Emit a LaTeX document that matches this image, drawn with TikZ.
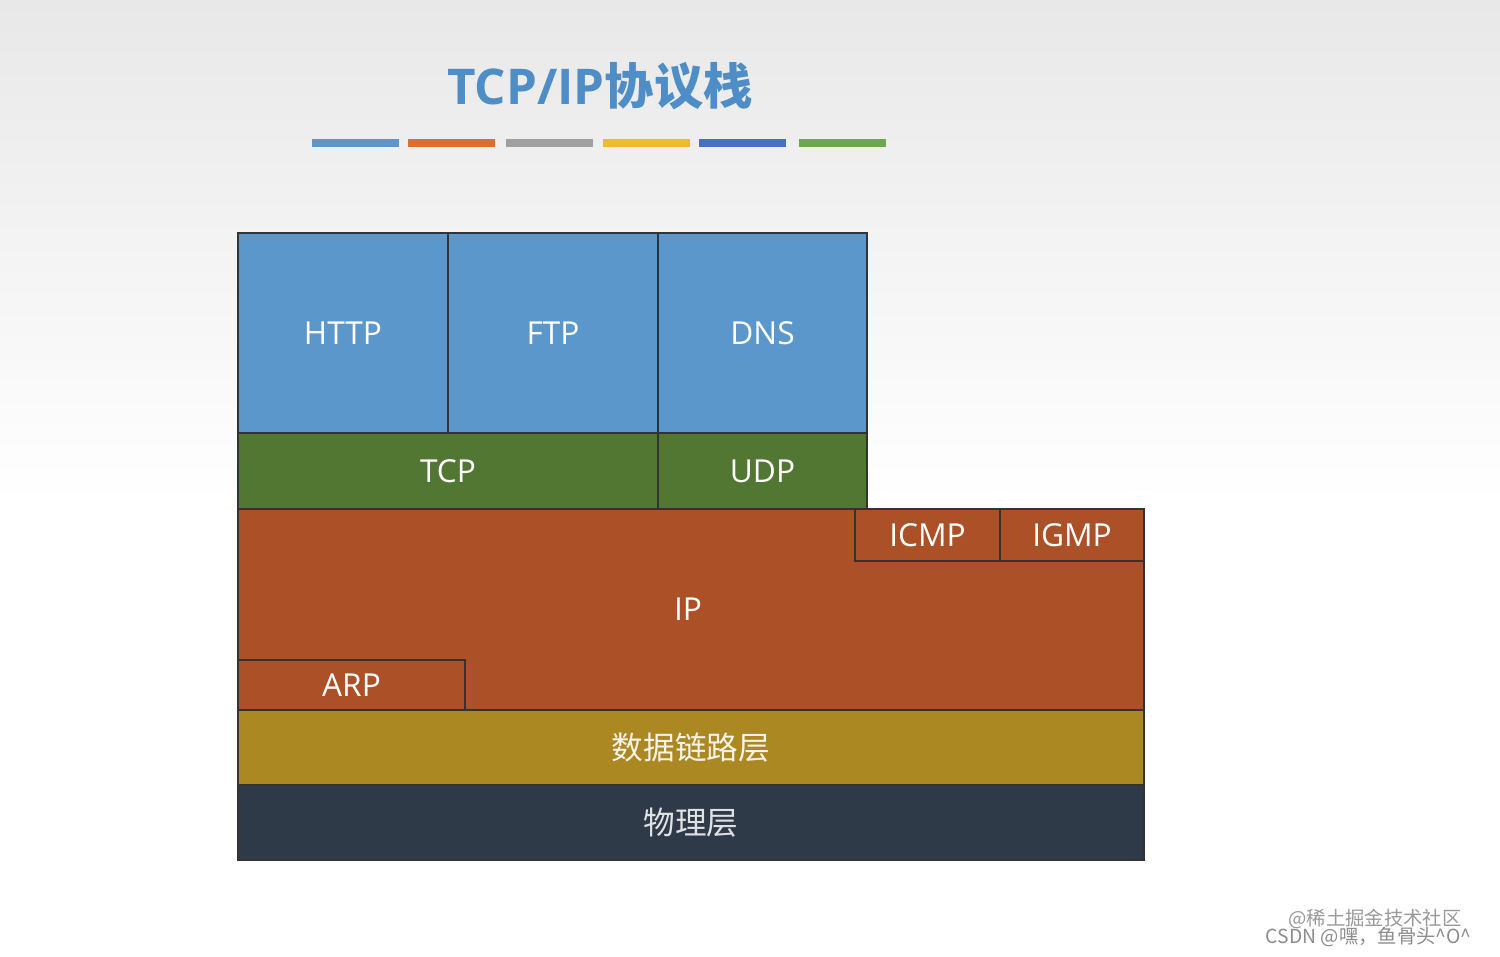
\documentclass[tikz,border=0pt]{standalone}
\usepackage{fontspec}
\setmainfont{Open Sans}
\newfontfamily\cjk{Noto Sans CJK SC}
\definecolor{cblue}{HTML}{5B97CA}
\definecolor{cgreen}{HTML}{527733}
\definecolor{corange}{HTML}{AC5127}
\definecolor{cgold}{HTML}{AB8822}
\definecolor{cdark}{HTML}{2F3A48}
\definecolor{ctitle}{HTML}{4F8DC6}
\begin{document}
\begin{tikzpicture}[x=0.01cm,y=-0.01cm,
  box/.style={draw=black!80,line width=0.5pt,text=white,font=\fontsize{9}{10}\selectfont},
  bar/.style={line width=2.2pt}]
\useasboundingbox (0,0) rectangle (1500,956);
\shade[top color=black!9,bottom color=white] (0,0) rectangle (1500,500);
\fill[white] (0,500) rectangle (1500,956);
\node[text=ctitle,font=\fontsize{14}{16}\selectfont\bfseries] (title) at (600,86) {TCP/IP\cjk 协议栈};
\foreach \a/\b/\c in {312/399/5B97CA,408/495/DB6F33,506/593/A0A0A0,603/690/F1B92C,699/786/4571BF,799/886/6FA84A}{
  \definecolor{tmp}{HTML}{\c}\draw[bar,tmp] (\a,143) -- (\b,143);}
\path[box,fill=cblue] (238,233) rectangle node (http) {HTTP} (448,433);
\path[box,fill=cblue] (448,233) rectangle node (ftp) {FTP} (658,433);
\path[box,fill=cblue] (658,233) rectangle node (dns) {DNS} (867,433);
\path[box,fill=cgreen] (238,433) rectangle node (tcp) {TCP} (658,509);
\path[box,fill=cgreen] (658,433) rectangle node (udp) {UDP} (867,509);
\path[box,fill=corange] (238,509) rectangle (1144,710);
\node[text=white,font=\fontsize{9}{10}\selectfont] (ip) at (688,609) {IP};
\path[box,fill=corange] (855,509) rectangle node (icmp) {ICMP} (1000,561);
\path[box,fill=corange] (1000,509) rectangle node (igmp) {IGMP} (1144,561);
\path[box,fill=corange] (238,660) rectangle node (arp) {ARP} (465,710);
\path[box,fill=cgold] (238,710) rectangle node[text=white!90!cgold,font=\cjk\fontsize{9}{10}\selectfont] (dl) {数据链路层} (1144,785);
\path[box,fill=cdark] (238,785) rectangle node[text=white!85!cdark,font=\cjk\fontsize{9}{10}\selectfont] (ph) {物理层} (1144,860);
\node[anchor=east,text=black!40,font=\cjk\fontsize{5.5}{6}\selectfont] (w1) at (1474,919) {@稀土掘金技术社区};
\node[anchor=east,text=black!45,font=\cjk\fontsize{5.5}{6}\selectfont] (w2) at (1484,937) {CSDN @嘿，鱼骨头\textasciicircum O\textasciicircum};
\end{tikzpicture}
\end{document}
